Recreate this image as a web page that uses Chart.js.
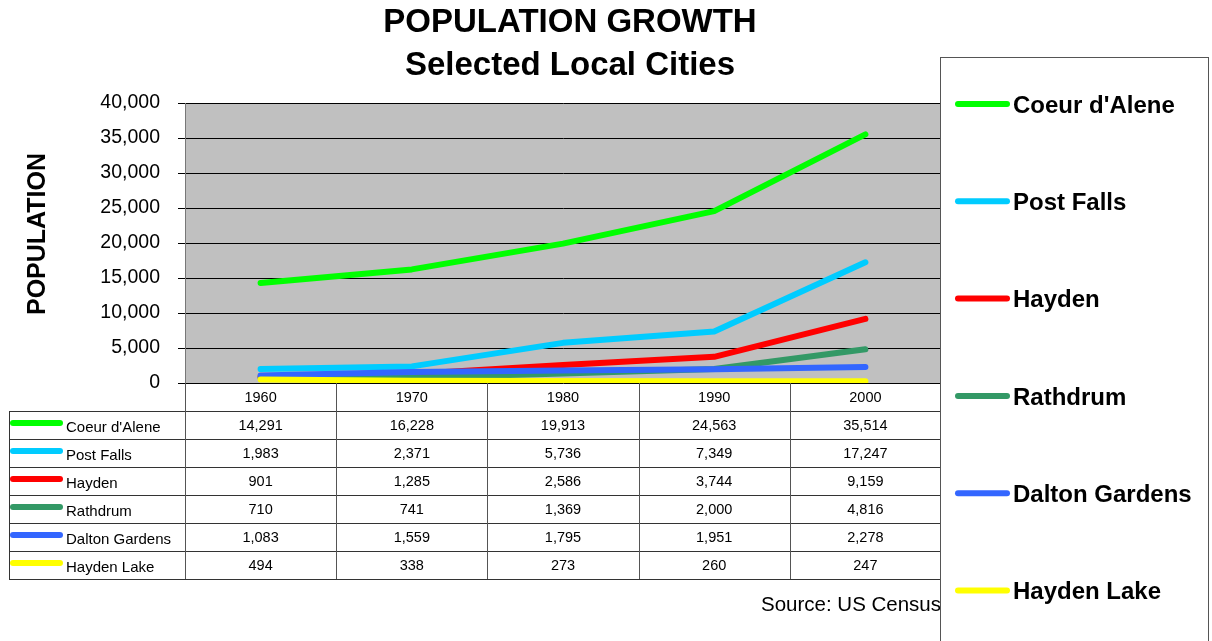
<!DOCTYPE html>
<html lang="en">
<head>
    <meta charset="UTF-8">
    <script src="https://cdn.jsdelivr.net/npm/chart.js"></script>
    <title>Population Growth</title>
    <style>
      body { margin: 0; background: #fff; }
      canvas { display: block; }
    </style>
</head>
<body>
    <canvas id="popChart" width="1212" height="641"></canvas>

    <script>
      const years = ['1960', '1970', '1980', '1990', '2000'];
      const cities = ['Coeur d\'Alene', 'Post Falls', 'Hayden', 'Rathdrum', 'Dalton Gardens', 'Hayden Lake'];
      const coeurDAlene = [14291, 16228, 19913, 24563, 35514];
      const postFalls = [1983, 2371, 5736, 7349, 17247];
      const hayden = [901, 1285, 2586, 3744, 9159];
      const rathdrum = [710, 741, 1369, 2000, 4816];
      const daltonGardens = [1083, 1559, 1795, 1951, 2278];
      const haydenLake = [494, 338, 273, 260, 247];
      const yTicks = [0, 5000, 10000, 15000, 20000, 25000, 30000, 35000, 40000];

      const seriesValues = [coeurDAlene, postFalls, hayden, rathdrum, daltonGardens, haydenLake];
      const colors = ['#00FF00', '#00CCFF', '#FF0000', '#339966', '#3366FF', '#FFFF00'];

      const FONT = 'Arial, "Liberation Sans", sans-serif';
      const fmt = v => v.toLocaleString('en-US');

      // everything outside the plot area: title, axis title, data table, legend
      const decorations = {
        id: 'decorations',
        beforeDraw(chart) {
          const { ctx, chartArea: a } = chart;
          ctx.save();
          ctx.fillStyle = '#C0C0C0';
          ctx.fillRect(a.left, a.top, a.right - a.left, a.bottom - a.top);
          ctx.restore();
        },
        afterDraw(chart) {
          const { ctx, chartArea: a } = chart;
          const x = chart.scales.x;
          ctx.save();

          // titles
          ctx.fillStyle = '#000';
          ctx.textAlign = 'center';
          ctx.textBaseline = 'middle';
          ctx.font = 'bold 33px ' + FONT;
          ctx.fillText('POPULATION GROWTH', 570, 23);
          ctx.fillText('Selected Local Cities', 570, 66);

          ctx.save();
          ctx.translate(38, 234);
          ctx.rotate(-Math.PI / 2);
          ctx.font = 'bold 25px ' + FONT;
          ctx.fillText('POPULATION', 0, 0);
          ctx.restore();

          // data table under the plot
          const half = (x.getPixelForValue(1) - x.getPixelForValue(0)) / 2;
          const headTop = a.bottom, headBottom = 411, rowH = 28;
          const tableLeft = 9;
          const tableBottom = headBottom + rowH * cities.length;

          ctx.lineWidth = 1;
          ctx.strokeStyle = '#333';
          for (let r = 0; r <= cities.length; r++) {
            const y = Math.round(headBottom + r * rowH) + 0.5;
            ctx.beginPath();
            ctx.moveTo(tableLeft, y);
            ctx.lineTo(a.right, y);
            ctx.stroke();
          }
          ctx.beginPath();
          ctx.moveTo(tableLeft + 0.5, headBottom);
          ctx.lineTo(tableLeft + 0.5, tableBottom);
          ctx.stroke();

          ctx.strokeStyle = '#555';
          for (let i = 0; i <= years.length; i++) {
            const xx = Math.round(x.getPixelForValue(0) - half + i * half * 2) + 0.5;
            ctx.beginPath();
            ctx.moveTo(xx, headTop);
            ctx.lineTo(xx, tableBottom);
            ctx.stroke();
          }

          ctx.fillStyle = '#000';
          ctx.font = '14.5px ' + FONT;
          years.forEach((yr, i) => {
            ctx.fillText(yr, x.getPixelForValue(i), (headTop + headBottom) / 2 + 1);
          });
          cities.forEach((name, r) => {
            const cy = headBottom + rowH * r + rowH / 2;
            seriesValues[r].forEach((v, i) => {
              ctx.fillText(fmt(v), x.getPixelForValue(i), cy + 1);
            });
            ctx.strokeStyle = colors[r];
            ctx.lineWidth = 6;
            ctx.lineCap = 'round';
            ctx.beginPath();
            ctx.moveTo(13, cy - 2);
            ctx.lineTo(60, cy - 2);
            ctx.stroke();
            ctx.textAlign = 'left';
            ctx.font = '15px ' + FONT;
            ctx.fillText(name, 66, cy + 3);
            ctx.textAlign = 'center';
            ctx.font = '14.5px ' + FONT;
          });

          // source note, partly covered by the legend box
          ctx.textAlign = 'left';
          ctx.font = '20.5px ' + FONT;
          ctx.fillText('Source: US Census', 761, 605);

          // legend box on the right
          ctx.fillStyle = '#fff';
          ctx.fillRect(940, 57, 269, 600);
          ctx.strokeStyle = '#555';
          ctx.lineWidth = 1;
          ctx.lineCap = 'butt';
          ctx.strokeRect(940.5, 57.5, 268, 600);

          cities.forEach((name, r) => {
            const cy = 105 + r * 97.3;
            ctx.strokeStyle = colors[r];
            ctx.lineWidth = 6;
            ctx.lineCap = 'round';
            ctx.beginPath();
            ctx.moveTo(958, cy - 1);
            ctx.lineTo(1007, cy - 1);
            ctx.stroke();
            ctx.fillStyle = '#000';
            ctx.font = 'bold 24px ' + FONT;
            ctx.textBaseline = 'middle';
            ctx.fillText(name, 1013, cy + 1);
          });

          ctx.restore();
        }
      };

      const ctx = document.getElementById('popChart');

      new Chart(ctx, {
        type: 'line',
        data: {
          labels: years,
          datasets: cities.map((name, i) => ({
            label: name,
            data: seriesValues[i],
            borderColor: colors[i],
            backgroundColor: colors[i],
            borderWidth: 6,
            borderCapStyle: 'round',
            borderJoinStyle: 'round',
            pointRadius: 0,
            tension: 0,
            fill: false,
            // later cities drawn on top
            order: cities.length - i
          }))
        },
        options: {
          responsive: false,
          animation: false,
          layout: { padding: { top: 103, right: 271, bottom: 258, left: 0 } },
          plugins: {
            legend: { display: false },
            title: { display: false },
            tooltip: { enabled: false }
          },
          scales: {
            x: {
              display: false,
              offset: true
            },
            y: {
              min: 0,
              max: 40000,
              afterFit(scale) { scale.width = 185; },
              afterBuildTicks(scale) { scale.ticks = yTicks.map(v => ({ value: v })); },
              ticks: {
                color: '#000',
                padding: 18,
                font: { family: FONT, size: 19.5 },
                callback: v => fmt(v)
              },
              grid: {
                color: '#000',
                lineWidth: 1,
                tickLength: 7
              },
              border: { color: '#777', width: 1 }
            }
          }
        },
        plugins: [decorations]
      });
    </script>
</body>
</html>
